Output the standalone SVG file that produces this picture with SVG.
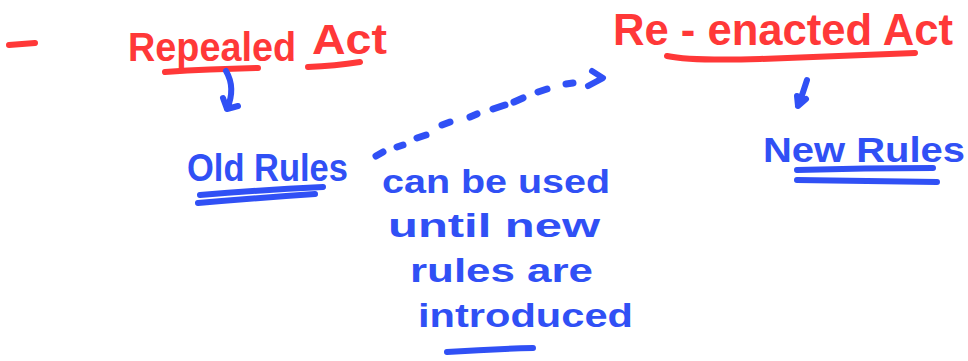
<svg xmlns="http://www.w3.org/2000/svg" width="968" height="361" viewBox="0 0 968 361">
<style>
.red{fill:#ff3838;font-family:"Liberation Sans",Arial,sans-serif;font-weight:bold}
.blue{fill:#3050f5;font-family:"Liberation Sans",Arial,sans-serif;font-weight:bold}
.rs{fill:none;stroke:#ff3838;stroke-width:6;stroke-linecap:round;stroke-linejoin:round}
.bs{fill:none;stroke:#3050f5;stroke-width:6;stroke-linecap:round;stroke-linejoin:round}
.dash{fill:none;stroke:#3050f5;stroke-width:7;stroke-linecap:round}
</style>
<rect width="968" height="361" fill="#ffffff"/>
<g id="bullet">
<path class="rs" d="M9 45 L35 43"/>
</g>
<g id="repealed-act">
<text class="red" x="128" y="61" font-size="42"><tspan font-size="40" textLength="168" lengthAdjust="spacingAndGlyphs">Repealed</tspan><tspan x="312" y="54" font-size="42" textLength="75" lengthAdjust="spacingAndGlyphs">Act</tspan></text>
<path class="rs" d="M165 72 Q210 69 258 68"/>
<path class="rs" d="M308 67 Q335 66 360 62"/>
</g>
<g id="reenacted-act">
<text class="red" x="613" y="45" font-size="44" textLength="340" lengthAdjust="spacingAndGlyphs">Re - enacted Act</text>
<path class="rs" d="M667 56 Q690 61 760 59 Q840 56 915 53"/>
</g>
<g id="old-rules">
<text class="blue" x="187" y="181" font-size="38" textLength="161" lengthAdjust="spacingAndGlyphs">Old Rules</text>
<path class="bs" d="M200 195 Q260 190 323 187"/>
<path class="bs" d="M198 203 Q255 198 315 194"/>
</g>
<g id="new-rules">
<text class="blue" x="763" y="162" font-size="35" textLength="202" lengthAdjust="spacingAndGlyphs">New Rules</text>
<path class="bs" d="M797 170 Q865 168 933 168"/>
<path class="bs" d="M797 180 Q865 181 937 182"/>
</g>
<g id="note">
<text class="blue" x="382" y="193" font-size="34" textLength="228" lengthAdjust="spacingAndGlyphs">can be used</text>
<text class="blue" x="388" y="237" font-size="34" textLength="212" lengthAdjust="spacingAndGlyphs">until new</text>
<text class="blue" x="410" y="282" font-size="34" textLength="183" lengthAdjust="spacingAndGlyphs">rules are</text>
<text class="blue" x="418" y="327" font-size="34" textLength="215" lengthAdjust="spacingAndGlyphs">introduced</text>
<path class="bs" d="M447 352 Q490 349 533 348"/>
</g>
<g id="connectors">
<path class="bs" d="M226 71 Q236 88 227 109 M223 98 L227 109 L238 106"/>
<path class="bs" d="M807 80 Q803 93 798 106 M797 96 L798 106 L806 99"/>
<g class="dash">
<path d="M376 156 L383 152"/>
<path d="M397 147 L403 145"/>
<path d="M417 138 L426 135"/>
<path d="M442 125 L450 122"/>
<path d="M470 117 L477 114"/>
<path d="M493 109 L505 105"/>
<path d="M514 102 L523 98"/>
<path d="M538 92 L547 89"/>
<path d="M566 84 L573 83"/>
</g>
<path class="bs" d="M592 71 L603 78 L588 86"/>
</g>
</svg>
